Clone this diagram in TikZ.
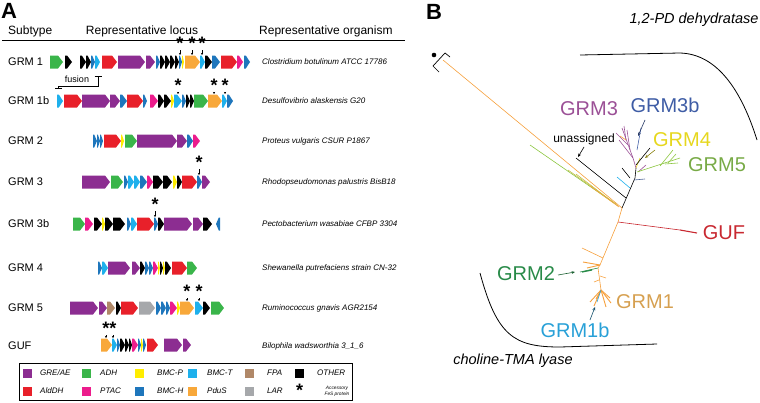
\documentclass[tikz,border=0pt]{standalone}
\usepackage{fontspec}
\setmainfont{Liberation Sans}
\usepackage{tikz}
\usetikzlibrary{arrows.meta}

% gene classes
\definecolor{GREAE}{RGB}{140,45,145}
\definecolor{AldDH}{RGB}{232,32,42}
\definecolor{ADH}{RGB}{58,181,74}
\definecolor{PTAC}{RGB}{236,28,140}
\definecolor{BMCP}{RGB}{255,237,0}
\definecolor{BMCH}{RGB}{30,118,188}
\definecolor{BMCT}{RGB}{30,176,236}
\definecolor{PduS}{RGB}{248,168,58}
\definecolor{FPA}{RGB}{176,136,104}
\definecolor{LAR}{RGB}{166,168,171}
\definecolor{OTHER}{RGB}{0,0,0}
% tree colours
\definecolor{brOrange}{RGB}{246,160,60}
\definecolor{brOlive}{RGB}{196,190,70}
\definecolor{brGreen}{RGB}{140,198,63}
\definecolor{cGRMthree}{RGB}{155,80,150}
\definecolor{cGRMthreeb}{RGB}{62,92,165}
\definecolor{cGRMfour}{RGB}{230,215,30}
\definecolor{cGRMfive}{RGB}{120,170,70}
\definecolor{cGUF}{RGB}{200,40,48}
\definecolor{cGRMtwo}{RGB}{40,138,72}
\definecolor{cGRMone}{RGB}{214,160,80}
\definecolor{cGRMoneb}{RGB}{40,160,215}

% gene arrow: start, end, colour, row
\newcommand{\gene}[4]{%
  \pgfmathsetmacro{\genetip}{min(5,0.7*(#2-#1))}%
  \fill[fill=#3] ({#1},{#4-6.5}) -- ({#2-\genetip},{#4-6.5}) -- ({#2},{#4})
    -- ({#2-\genetip},{#4+6.5}) -- ({#1},{#4+6.5}) -- cycle;}
% gene pointing left
\newcommand{\rgene}[4]{%
  \pgfmathsetmacro{\genetip}{min(5,0.7*(#2-#1))}%
  \fill[fill=#3] ({#2},{#4-6.5}) -- ({#1+\genetip},{#4-6.5}) -- ({#1},{#4})
    -- ({#1+\genetip},{#4+6.5}) -- ({#2},{#4+6.5}) -- cycle;}
% accessory FeS protein: name, x, star y, gene top
\newcommand{\fes}[4]{%
  \node[fesmark] (#1) at ({#2},{#3}) {*};
  \coordinate (#1g) at ({#2},{#4});
  \draw[fesarrow] (#1.south) -- (#1g);}

\begin{document}
\begin{tikzpicture}[x=1pt, y=-1pt,
  hdr/.style={font=\fontsize{12}{14}\selectfont, anchor=base, inner sep=0},
  rowlbl/.style={font=\fontsize{11}{13}\selectfont, anchor=west, inner sep=0},
  orglbl/.style={font=\fontsize{8}{10}\selectfont\itshape, anchor=west, inner sep=0},
  fesmark/.style={font=\fontsize{18}{18}\selectfont\bfseries, inner sep=0.4pt,
    text height=13.3pt, text depth=-7.6pt},
  fesarrow/.style={-{Stealth[length=2.2pt,width=2.2pt]}, line width=0.5pt},
  legsq/.style={minimum size=9pt, inner sep=0},
  leglbl/.style={font=\fontsize{8}{10}\selectfont\itshape, anchor=west, inner sep=0},
  br/.style={line width=0.6pt},
  fan/.style={line width=0.9pt},
  clade/.style={font=\fontsize{20}{24}\selectfont, inner sep=0},
  lblarrow/.style={-{Stealth[length=3.5pt,width=2.8pt]}, line width=0.6pt},
  group/.style={font=\fontsize{14.5}{17}\selectfont\itshape, inner sep=0},
  panel/.style={font=\fontsize{22}{24}\selectfont\bfseries, anchor=north west, inner sep=0}]
\useasboundingbox (0,0) rectangle (760,402);

% Panel A
\node[panel] (pA) at (1,3) {A};
\node[hdr, anchor=base west] (hSub) at (8,34) {Subtype};
\node[hdr] (hLoc) at (142,34) {Representative locus};
\node[hdr, anchor=base west] (hOrg) at (259,34) {Representative organism};
\draw[line width=0.8pt] (2,40) -- (405,40);

% Row labels and organisms
\node[rowlbl] (rGRMone) at (8,62) {GRM 1};
\node[rowlbl] (rGRMoneb) at (8,101) {GRM 1b};
\node[rowlbl] (rGRMtwo) at (8,141) {GRM 2};
\node[rowlbl] (rGRMthree) at (8,182) {GRM 3};
\node[rowlbl] (rGRMthreeb) at (8,224) {GRM 3b};
\node[rowlbl] (rGRMfour) at (8,268) {GRM 4};
\node[rowlbl] (rGRMfive) at (8,308) {GRM 5};
\node[rowlbl] (rGUF) at (8,346) {GUF};
\node[orglbl] (oGRMone) at (262,62) {Clostridium botulinum ATCC 17786};
\node[orglbl] (oGRMoneb) at (262,101) {Desulfovibrio alaskensis G20};
\node[orglbl] (oGRMtwo) at (262,141) {Proteus vulgaris CSUR P1867};
\node[orglbl] (oGRMthree) at (262,182) {Rhodopseudomonas palustris BisB18};
\node[orglbl] (oGRMthreeb) at (262,224) {Pectobacterium wasabiae CFBP 3304};
\node[orglbl] (oGRMfour) at (262,268) {Shewanella putrefaciens strain CN-32};
\node[orglbl] (oGRMfive) at (262,308) {Ruminococcus gnavis AGR2154};
\node[orglbl] (oGUF) at (262,346) {Bilophila wadsworthia 3\_1\_6};

% Locus GRM 1
\foreach \a/\b/\c in {50/63/ADH, 65/72/OTHER, 80/86/OTHER, 86/91/OTHER, 91/95/BMCH,
    95/100/BMCT, 102/117/AldDH, 118/145/GREAE, 146/155/GREAE, 156/160/BMCH,
    160/165/OTHER, 165/170/OTHER, 170/175/OTHER, 175/179/OTHER, 179/182/BMCH,
    182/184/BMCP, 185/200/PduS, 200/205/BMCT, 205/212/OTHER, 212/220/BMCH,
    221/237/AldDH, 237/243/PTAC, 244/250/BMCH}
  {\gene{\a}{\b}{\c}{62}}
\fes{sOneA}{180}{43}{55}
\fes{sOneB}{192}{43}{55}
\fes{sOneC}{202}{43}{55}
% fusion
\coordinate (fusTop) at (98,76);
\coordinate (fusBot) at (58,89);
\draw[line width=0.6pt, {Bar[width=7pt]}-{Bar[width=7pt]}] (fusTop) -- (98,86) -- (58,86) -- (fusBot);
\node[font=\fontsize{9}{10}\selectfont, inner sep=0] (fuslbl) at (77,79) {fusion};

% Locus GRM 1b
\foreach \a/\b/\c in {57/63/BMCT, 64/82/AldDH, 82/110/GREAE, 110/120/GREAE,
    120/127/BMCH, 127/143/AldDH, 143/147/BMCH, 150/158/PTAC, 158/164/OTHER,
    164/171/OTHER, 171/174/BMCP, 174/182/BMCT, 182/186/BMCH, 186/190/OTHER,
    190/194/OTHER, 194/208/ADH, 208/222/PduS, 222/227/BMCT, 227/233/BMCH}
  {\gene{\a}{\b}{\c}{101}}
\fes{sOnebA}{178}{85}{94}
\fes{sOnebB}{214}{85}{94}
\fes{sOnebC}{225}{85}{94}

% Locus GRM 2
\foreach \a/\b/\c in {93/97/BMCH, 97/100/BMCH, 100/103/BMCH, 104/121/AldDH,
    121/124/BMCP, 125/137/ADH, 137/177/GREAE, 177/187/GREAE, 187/193/BMCH,
    193/200/PTAC}
  {\gene{\a}{\b}{\c}{141}}

% Locus GRM 3
\foreach \a/\b/\c in {82/110/GREAE, 111/123/ADH, 124/128/BMCH, 128/134/BMCT,
    134/140/BMCT, 140/147/BMCH, 147/153/PTAC, 153/163/OTHER, 163/172/OTHER,
    173/177/BMCP, 177/182/OTHER, 182/197/AldDH, 197/202/BMCH, 202/210/GREAE}
  {\gene{\a}{\b}{\c}{182}}
\fes{sThree}{199}{162}{175}

% Locus GRM 3b
\foreach \a/\b/\c in {73/85/ADH, 85/93/PTAC, 94/102/OTHER, 102/105/BMCP,
    105/113/OTHER, 113/125/OTHER, 127/131/BMCH, 131/137/BMCT, 137/154/AldDH,
    154/158/BMCH, 158/164/OTHER, 164/192/GREAE, 193/203/GREAE, 203/212/OTHER}
  {\gene{\a}{\b}{\c}{224}}
\rgene{216}{220}{BMCH}{224}
\fes{sThreeb}{155}{204}{217}

% Locus GRM 4
\foreach \a/\b/\c in {98/102/BMCH, 102/108/BMCT, 108/130/GREAE, 132/140/GREAE,
    140/145/OTHER, 145/149/BMCH, 149/153/BMCH, 153/158/PTAC, 158/160/BMCP,
    160/163/OTHER, 163/165/BMCP, 165/171/OTHER, 172/187/AldDH, 187/197/ADH}
  {\gene{\a}{\b}{\c}{268}}

% Locus GRM 5
\foreach \a/\b/\c in {70/98/GREAE, 99/107/GREAE, 107/115/FPA, 116/121/OTHER,
    121/138/AldDH, 139/155/LAR, 156/161/BMCH, 161/166/BMCH, 166/170/BMCH,
    170/177/PTAC, 177/180/BMCP, 180/194/PduS, 195/203/BMCT, 203/210/OTHER,
    211/224/ADH}
  {\gene{\a}{\b}{\c}{308}}
\fes{sFiveA}{187}{291}{301}
\fes{sFiveB}{199}{291}{301}

% Locus GUF
\foreach \a/\b/\c in {101/112/PduS, 112/117/BMCT, 117/120/BMCH, 120/125/OTHER,
    125/129/OTHER, 129/132/OTHER, 132/138/PTAC, 138/141/BMCH, 141/143/BMCP,
    143/146/BMCH, 147/158/AldDH, 164/182/GREAE, 183/191/GREAE}
  {\gene{\a}{\b}{\c}{345}}
\fes{sGUFA}{106}{328}{338}
\fes{sGUFB}{113}{328}{338}

% Legend
\draw[line width=0.8pt] (19,363) rectangle (352,400);
\node[legsq, fill=GREAE] (qGRE) at (27.5,373) {};
\node[legsq, fill=ADH] (qADH) at (86.5,373) {};
\node[legsq, fill=BMCP] (qBMCP) at (139.5,373) {};
\node[legsq, fill=BMCT] (qBMCT) at (192.5,373) {};
\node[legsq, fill=FPA] (qFPA) at (249.5,373) {};
\node[legsq, fill=OTHER] (qOTH) at (299.5,373) {};
\node[legsq, fill=AldDH] (qAld) at (27.5,391) {};
\node[legsq, fill=PTAC] (qPTAC) at (86.5,391) {};
\node[legsq, fill=BMCH] (qBMCH) at (139.5,391) {};
\node[legsq, fill=PduS] (qPduS) at (192.5,391) {};
\node[legsq, fill=LAR] (qLAR) at (249.5,391) {};
\node[fesmark] (qFeS) at (299.5,390) {*};
\node[leglbl] (tGRE) at (40,373) {GRE/AE};
\node[leglbl] (tADH) at (100,373) {ADH};
\node[leglbl] (tBMCP) at (157,373) {BMC-P};
\node[leglbl] (tBMCT) at (207,373) {BMC-T};
\node[leglbl] (tFPA) at (267,373) {FPA};
\node[leglbl] (tOTH) at (317,373) {OTHER};
\node[leglbl] (tAld) at (40,391) {AldDH};
\node[leglbl] (tPTAC) at (100,391) {PTAC};
\node[leglbl] (tBMCH) at (157,391) {BMC-H};
\node[leglbl] (tPduS) at (207,391) {PduS};
\node[leglbl] (tLAR) at (267,391) {LAR};
\node[font=\fontsize{4.8}{6}\selectfont\itshape, align=center, inner sep=0] (tFeS) at (337,391) {Accessory\\FeS protein};

% Panel B
\node[panel] (pB) at (426,4) {B};
\node[group] (gPD) at (694,20) {1,2-PD dehydratase};
\node[group] (gTMA) at (513,361) {choline-TMA lyase};
\draw[line width=0.8pt] (580,55) -- (680,53) .. controls (718,54) and (742,92) .. (757,140);
\draw[line width=0.8pt] (480,273) .. controls (497,336) and (514,347) .. (560,347) -- (657,344);

% root mark
\fill (434,55) circle (2.3pt);
\draw[line width=0.7pt] (450,57) -- (445,53) -- (433,66) -- (439,72);

% tree: long branches to the hub
\coordinate (root) at (443,60);
\coordinate (hub) at (622,208);
\draw[br, brOrange] (root) -- (hub);
\draw[br, brGreen] (530,145) -- (614,203);
\draw[br, brOlive] (568,170) -- (616,204);
\draw[br, brOlive] (576,174) -- (618,206);
\draw[br, brOrange] (590,186) -- (619,207);
\draw[br, black] (576,158) -- (626,198);

% tree: 1,2-PD clade
\draw[br, black] (hub) -- (635,178) -- (636,168);
\draw[br, cGRMfour] (636,168) -- (640,158);
\draw[br, cGRMthree] (636,168) -- (633,158) -- (622,128);
\draw[br, cGRMthree] (633,158) -- (619,140);
\draw[br, cGRMthree] (630,150) -- (627,130);
\draw[br, cGRMthree] (628,145) -- (616,133);
\draw[br, cGRMthree] (626,140) -- (624,126);
\draw[br, brOrange] (626,140) -- (620,136);
\draw[br, cGRMthreeb] (637,150) -- (641,128);
\draw[br, black] (636,165) -- (650,148);
\draw[br, cGRMthree] (638,172) -- (646,165);
\draw[br, brGreen] (637,172) -- (680,158);
\draw[br, brGreen] (660,166) -- (673,150);
\draw[br, brGreen] (665,164) -- (678,163);
\draw[br, brGreen] (668,163) -- (676,154);
\draw[br, cGRMthreeb!70!gray] (634,180) -- (645,179);
\draw[br, black] (630,178) -- (622,168);
\draw[br, BMCT] (630,188) -- (617,177);

% tree: GUF and choline-TMA lyase clade
\coordinate (gufNode) at (618,222);
\draw[br, brOrange] (hub) -- (gufNode) -- (600,265) -- (598,268) -- (601,290);
\draw[br, cGUF] (gufNode) -- (680,230);
\draw[line width=1.1pt, cGUF] (680,230) -- (697,233);
\draw[br, brOrange] (603,258) -- (582,248);
\draw[fan, brOrange] (600,265) -- (583,262);
\draw[fan, brOrange] (600,265) -- (587,268);
\draw[br, cGRMtwo] (598,268) -- (580,272);
\draw[line width=1.2pt, cGRMtwo] (592,270) -- (582,272);
\draw[br, brOrange] (600,276) -- (606,278);
\draw[br, brOrange] (599,280) -- (594,282);
\draw[fan, brOrange] (601,290) -- (590,302);
\draw[fan, brOrange] (601,290) -- (594,306);
\draw[fan, brOrange] (601,290) -- (606,307);
\draw[fan, brOrange] (601,290) -- (610,298);
\draw[fan, brOrange] (601,290) -- (611,303);
\draw[fan, brOrange] (601,290) -- (596,299);
\draw[br, cGRMoneb] (601,290) -- (597,302);

% clade labels
\node[clade, text=cGRMthree] (lGRMthree) at (589,109) {GRM3};
\node[clade, text=cGRMthreeb] (lGRMthreeb) at (665,105) {GRM3b};
\node[clade, text=cGRMfour] (lGRMfour) at (682,140) {GRM4};
\node[clade, text=cGRMfive] (lGRMfive) at (717,165) {GRM5};
\node[clade, text=cGUF] (lGUF) at (724,233) {GUF};
\node[clade, text=cGRMtwo] (lGRMtwo) at (526,274) {GRM2};
\node[clade, text=cGRMone] (lGRMone) at (645,302) {GRM1};
\node[clade, text=cGRMoneb] (lGRMoneb) at (575,330) {GRM1b};
\node[font=\fontsize{12}{14}\selectfont, inner sep=0] (lUn) at (584,139) {unassigned};

% label pointers
\coordinate (pThreebA) at (645,120);
\coordinate (pThreebB) at (638,136);
\coordinate (pUnA) at (584,147);
\coordinate (pUnB) at (578,157);
\coordinate (pFourA) at (655,150);
\coordinate (pFourB) at (645,158);
\coordinate (pTwoA) at (558,275);
\coordinate (pTwoB) at (575,272);
\coordinate (pOnebA) at (590,320);
\coordinate (pOnebB) at (595,307);
\draw[lblarrow, cGRMthreeb!60!black] (pThreebA) -- (pThreebB);
\draw[lblarrow, black] (pUnA) -- (pUnB);
\draw[lblarrow, cGRMfour!60!black] (pFourA) -- (pFourB);
\draw[lblarrow, cGRMtwo!70!black] (pTwoA) -- (pTwoB);
\draw[lblarrow, cGRMoneb!50!black] (pOnebA) -- (pOnebB);
\end{tikzpicture}
\end{document}
